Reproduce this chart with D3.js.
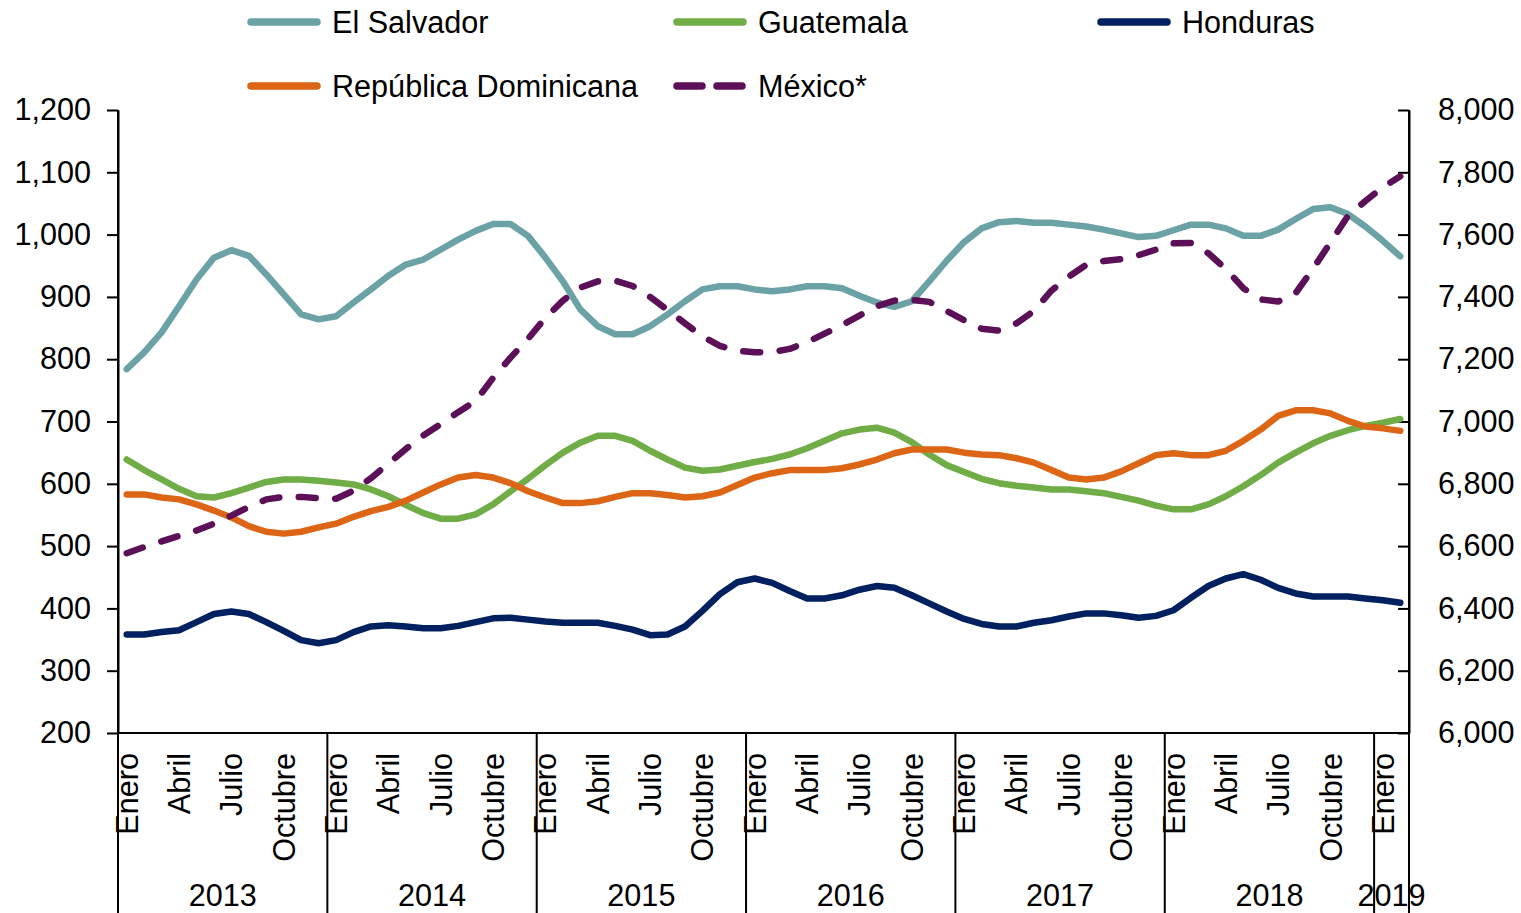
<!DOCTYPE html>
<html>
<head>
<meta charset="utf-8">
<script src="https://cdn.jsdelivr.net/npm/d3@7"></script>
<style>
    body { margin: 0; background: #fff; }
    svg text { font-family: "Liberation Sans", Arial, sans-serif; fill: #000; }
</style>
</head>
<body>
<svg id="chart" width="1521" height="913"></svg>
<script>
// categories: monthly, Jan 2013 - Feb 2019
const years = [2013, 2014, 2015, 2016, 2017, 2018, 2019]
const monthsPerYear = [12, 12, 12, 12, 12, 12, 2]
const monthNames = ["Enero", "Febrero", "Marzo", "Abril", "Mayo", "Junio",
    "Julio", "Agosto", "Septiembre", "Octubre", "Noviembre", "Diciembre"]
const tickMonths = ["Enero", "Abril", "Julio", "Octubre"]
const leftTicks = [200, 300, 400, 500, 600, 700, 800, 900, 1000, 1100, 1200]
const rightTicks = [6000, 6200, 6400, 6600, 6800, 7000, 7200, 7400, 7600, 7800, 8000]

// left axis series
const elSalvador = [784, 811, 843, 885, 928, 963, 975, 966, 936, 904,
    872, 864, 869, 891, 912, 934, 952, 960, 976, 992,
    1006, 1017, 1017, 998, 963, 925, 880, 853, 840, 840,
    853, 872, 893, 912, 917, 917, 912, 909, 912, 917,
    917, 914, 902, 891, 884, 893, 925, 958, 988, 1010,
    1020, 1022, 1019, 1019, 1016, 1013, 1008, 1002, 996, 998,
    1007, 1016, 1016, 1010, 998, 998, 1008, 1025, 1041, 1044,
    1033, 1013, 990, 965]
const guatemala = [639, 622, 607, 592, 580, 578, 585, 594, 603, 607,
    607, 605, 602, 599, 591, 580, 566, 553, 544, 544,
    551, 567, 588, 608, 630, 650, 666, 677, 677, 669,
    653, 639, 626, 621, 623, 629, 635, 640, 647, 657,
    669, 681, 687, 690, 682, 667, 647, 630, 619, 608,
    601, 597, 594, 591, 591, 588, 585, 579, 573, 565,
    559, 559, 567, 580, 596, 614, 634, 650, 665, 677,
    686, 693, 698, 704]
const honduras = [358, 358, 362, 365, 378, 391, 395, 391, 378, 364,
    349, 344, 349, 362, 371, 373, 371, 368, 368, 372,
    378, 384, 385, 382, 379, 377, 377, 377, 372, 366,
    357, 358, 371, 396, 423, 442, 448, 441, 428, 416,
    416, 421, 430, 436, 433, 421, 408, 395, 383, 375,
    371, 371, 377, 381, 387, 392, 392, 389, 385, 388,
    397, 417, 436, 448, 455, 446, 433, 424, 419, 419,
    419, 416, 413, 409]
const repDominicana = [583, 583, 578, 575, 567, 557, 546, 532, 523, 520,
    523, 530, 536, 547, 556, 563, 573, 586, 599, 610,
    614, 610, 601, 588, 578, 569, 569, 572, 579, 585,
    585, 582, 578, 580, 586, 598, 610, 617, 622, 622,
    622, 625, 631, 639, 649, 655, 655, 655, 650, 647,
    646, 641, 634, 622, 610, 607, 610, 620, 633, 646,
    649, 646, 646, 653, 669, 687, 709, 718, 718, 713,
    701, 692, 689, 685]
// right axis series
const mexico = [6577, 6597, 6615, 6633, 6650, 6672, 6698, 6726, 6750, 6758,
    6758, 6754, 6752, 6778, 6818, 6865, 6912, 6955, 6992, 7030,
    7066, 7140, 7205, 7265, 7333, 7388, 7430, 7450, 7452, 7435,
    7400, 7358, 7315, 7273, 7243, 7227, 7222, 7223, 7233, 7255,
    7282, 7310, 7340, 7370, 7388, 7390, 7384, 7355, 7325, 7298,
    7292, 7315, 7355, 7420, 7465, 7503, 7515, 7521, 7534, 7552,
    7572, 7573, 7540, 7490, 7428, 7392, 7385, 7412, 7490, 7575,
    7660, 7708, 7752, 7787]

const categories = []
years.forEach((yr, k) => {
    for (let m = 0; m < monthsPerYear[k]; m++) categories.push({ year: yr, month: monthNames[m] })
})

const series = [
    { name: "El Salvador", values: elSalvador, color: "#6aa2a6", axis: "left" },
    { name: "Guatemala", values: guatemala, color: "#70ad47", axis: "left" },
    { name: "Honduras", values: honduras, color: "#002060", axis: "left" },
    { name: "República Dominicana", values: repDominicana, color: "#dd6616", axis: "left" },
    { name: "México*", values: mexico, color: "#5b1058", axis: "right", dashed: true }
]

const svg = d3.select("#chart")
const plot = { left: 118, right: 1409, top: 110, bottom: 733 }
const fontSize = 30.6

const x = d3.scaleBand()
    .domain(d3.range(categories.length))
    .range([plot.left, plot.right])
const step = x.bandwidth()
const cx = i => x(i) + step / 2
const yL = d3.scaleLinear().domain([200, 1200]).range([plot.bottom, plot.top])
const yR = d3.scaleLinear().domain([6000, 8000]).range([plot.bottom, plot.top])

// axes
svg.append("g")
    .attr("transform", `translate(${plot.left},0)`)
    .call(d3.axisLeft(yL).tickValues(leftTicks).tickFormat(d3.format(","))
        .tickSize(11).tickSizeOuter(0).tickPadding(16))
svg.append("g")
    .attr("transform", `translate(${plot.right},0)`)
    .call(d3.axisRight(yR).tickValues(rightTicks).tickFormat(d3.format(","))
        .tickSize(-11).tickSizeOuter(0).tickPadding(29))
svg.selectAll(".domain, .tick line").attr("stroke", "#000").attr("stroke-width", 2)
svg.selectAll(".tick text")
    .attr("font-size", fontSize)
    .style("font-family", '"Liberation Sans", Arial, sans-serif')
    .attr("fill", "#000")

// category axis
svg.append("line")
    .attr("x1", plot.left).attr("x2", plot.right)
    .attr("y1", plot.bottom).attr("y2", plot.bottom)
    .attr("stroke", "#000").attr("stroke-width", 2)

let start = 0
const groups = years.map((yr, k) => {
    const g = { year: yr, start: start, end: start + monthsPerYear[k] }
    start = g.end
    return g
})
const sepX = groups.map(g => x(g.start)).concat([plot.right])
svg.selectAll(".sep")
    .data(sepX)
    .enter().append("line")
    .attr("class", "sep")
    .attr("x1", d => d).attr("x2", d => d)
    .attr("y1", (d, i) => (i === 0 || i === sepX.length - 1) ? plot.top : plot.bottom)
    .attr("y2", 913)
    .attr("stroke", "#000").attr("stroke-width", 2)

svg.selectAll(".month")
    .data(categories.map((c, i) => ({ ...c, i })).filter(c => tickMonths.includes(c.month)))
    .enter().append("text")
    .attr("class", "month")
    .attr("transform", d => `translate(${cx(d.i)},753) rotate(-90)`)
    .attr("text-anchor", "end")
    .attr("dy", "0.36em")
    .attr("font-size", fontSize)
    .text(d => d.month)

svg.selectAll(".year")
    .data(groups)
    .enter().append("text")
    .attr("class", "year")
    .attr("x", d => (x(d.start) + (d.end < categories.length ? x(d.end) : plot.right)) / 2)
    .attr("y", 906)
    .attr("text-anchor", "middle")
    .attr("font-size", fontSize)
    .text(d => d.year)

// lines
series.forEach(s => {
    const y = s.axis === "left" ? yL : yR
    svg.append("path")
        .datum(s.values)
        .attr("fill", "none")
        .attr("stroke", s.color)
        .attr("stroke-width", 6.5)
        .attr("stroke-linejoin", "round")
        .attr("stroke-linecap", "round")
        .attr("stroke-dasharray", s.dashed ? "17,19.5" : null)
        .attr("d", d3.line().x((d, i) => cx(i)).y(d => y(d)))
})

// legend
const legendPos = [[248, 22], [674, 22], [1098, 22], [248, 86], [674, 86]]
const legend = svg.append("g")
series.forEach((s, k) => {
    const [lx, ly] = legendPos[k]
    legend.append("line")
        .attr("x1", lx + 3).attr("x2", lx + 69)
        .attr("y1", ly).attr("y2", ly)
        .attr("stroke", s.color)
        .attr("stroke-width", 7.5)
        .attr("stroke-linecap", "round")
        .attr("stroke-dasharray", s.dashed ? "25,15" : null)
    legend.append("text")
        .attr("x", lx + 84)
        .attr("y", ly)
        .attr("dy", "0.36em")
        .attr("font-size", fontSize)
        .text(s.name)
})
</script>
</body>
</html>
